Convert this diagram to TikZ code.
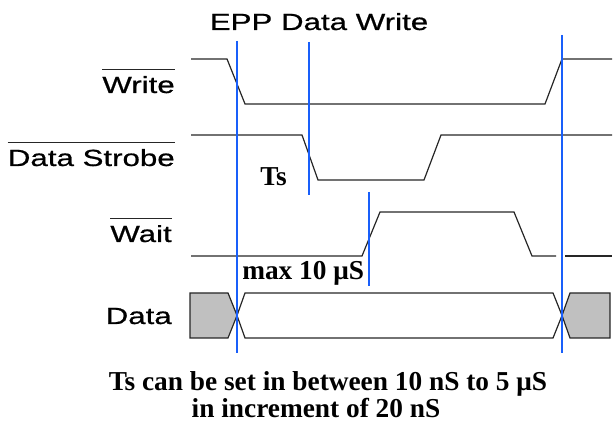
\documentclass[tikz,border=0pt]{standalone}
\usepackage{fontspec}
\setmainfont{Liberation Serif}
\newfontfamily\labfont[FakeStretch=1.34, FakeBold=0.7]{Liberation Sans}
\usepackage{tikz}
\definecolor{cursorblue}{RGB}{25,95,250}
\definecolor{busgray}{RGB}{192,192,192}

\begin{document}
\begin{tikzpicture}[x=0.75pt, y=-0.75pt,
		sig/.style={line width=0.9pt, black!85},
		cursor/.style={line width=1.1pt, cursorblue},
		lab/.style={anchor=base east, inner sep=0pt, font=\labfont\fontsize{17.5}{20}\selectfont},
		note/.style={anchor=base, inner sep=0pt, font=\bfseries\fontsize{20.5}{24}\selectfont}]
		\useasboundingbox (0,0) rectangle (614,423);
		
		\node[lab, anchor=base] (title) at (319,30) {EPP Data Write};
		
		\node[lab] (wr) at (175,93) {Write};
		\node[lab] (ds) at (175,166) {Data Strobe};
		\node[lab] (wt) at (172,242) {Wait};
		\node[lab] (dt) at (172,324) {Data};
		
		\foreach \n in {wr, ds, wt}
			\draw[sig] ([yshift=5pt]\n.north west) -- ([yshift=5pt]\n.north east);
		
		\draw[sig] (191,59) -- (227,59) -- (245,104) -- (545,104) -- (562,59) -- (612,59);
		\draw[sig] (191,135) -- (302,135) -- (318,180) -- (424,180) -- (441,135) -- (612,135);
		\draw[sig] (191,256) -- (362,256) -- (380,212) -- (514,212) -- (532,256) -- (556,256);
		\draw[sig] (565,256) -- (612,256);
		
		\coordinate (X1) at (237,315.5);
		\coordinate (X2) at (562,315.5);
		\filldraw[sig, fill=busgray] (190,293) -- (228,293) -- (X1) -- (228,338) -- (190,338) -- cycle;
		\draw[sig] (X1) -- (245,293) -- (553,293) -- (X2) -- (553,338) -- (245,338) -- cycle;
		\filldraw[sig, fill=busgray] (X2) -- (570,293) -- (610,293) -- (610,338) -- (570,338) -- cycle;
		
		\node[note, anchor=base west] (ts) at (260,186) {Ts};
		\node[note, anchor=base west] (mx) at (242,280) {max 10 μS};
		\node[note] (n1) at (328,391) {Ts can be set in between 10 nS to 5 μS};
		\node[note] (n2) at (316,418) {in increment of 20 nS};
		
		\draw[cursor] (237,41) -- (237,353);
		\draw[cursor] (309,42) -- (309,195);
		\draw[cursor] (369,192) -- (369,286);
		\draw[cursor] (562,35) -- (562,353);
	\end{tikzpicture}
\end{document}
